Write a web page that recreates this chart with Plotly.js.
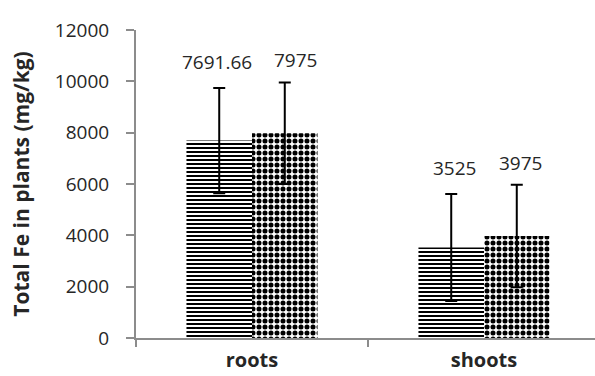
<!DOCTYPE html>
<html>
<head>
<meta charset="utf-8">
<script src="https://cdn.plot.ly/plotly-3.0.1.min.js"></script>
<style>
html,body{margin:0;padding:0;overflow:hidden;background:#fff;}
#chart{width:600px;height:376px;}
</style>
</head>
<body>
<div id="chart"></div>
<script>
// Data
var categories = ['roots', 'shoots'];
var series1 = [7691.66, 3525];
var series2 = [7975, 3975];
var err1 = [2050, 2085];
var err2 = [1975, 2000];
var labels1 = ['7691.66', '3525'];
var labels2 = ['7975', '3975'];
var yTicks = [0, 2000, 4000, 6000, 8000, 10000, 12000];

// Label placement styling (pixels)
var labelXShift1 = [-35, -30];
var labelXShift2 = [43, 36];
var labelYShift1 = [26, 26];
var labelYShift2 = [23, 22];

var axisGray = '#8c8c8c';
var textColor = '#262626';
var font = 'Open Sans, Noto Sans, sans-serif';

var trace1 = {
  type: 'bar', x: categories, y: series1, name: 'A',
  marker: {
    color: '#ffffff',
    line: {width: 0},
    pattern: {shape: '-', fgcolor: '#000000', bgcolor: '#ffffff', size: 4, solidity: 0.5, fillmode: 'replace'}
  },
  error_y: {type: 'data', array: err1, visible: true, color: '#000000', thickness: 2, width: 6}
};
var trace2 = {
  type: 'bar', x: categories, y: series2, name: 'B',
  marker: {
    color: '#ffffff',
    line: {width: 0},
    pattern: {shape: '.', fgcolor: '#000000', bgcolor: '#ffffff', size: 6, solidity: 0.55, fillmode: 'replace'}
  },
  error_y: {type: 'data', array: err2, visible: true, color: '#000000', thickness: 2, width: 6}
};

var annotations = [];
for (var i = 0; i < categories.length; i++) {
  annotations.push({x: categories[i], y: series1[i] + err1[i], xref: 'x', yref: 'y', text: labels1[i],
    showarrow: false, xshift: labelXShift1[i], yshift: labelYShift1[i], yanchor: 'middle',
    font: {family: font, size: 19, color: textColor}});
  annotations.push({x: categories[i], y: series2[i] + err2[i], xref: 'x', yref: 'y', text: labels2[i],
    showarrow: false, xshift: labelXShift2[i], yshift: labelYShift2[i], yanchor: 'middle',
    font: {family: font, size: 19, color: textColor}});
}

var layout = {
  width: 600, height: 376,
  margin: {l: 136, r: 0, t: 30, b: 38},
  paper_bgcolor: '#ffffff', plot_bgcolor: '#ffffff',
  barmode: 'group', bargap: 0.435, bargroupgap: 0,
  showlegend: false,
  font: {family: font, color: textColor},
  xaxis: {
    type: 'category', tickson: 'boundaries', ticks: 'outside', ticklen: 7, tickwidth: 2, tickcolor: axisGray,
    showline: true, linecolor: axisGray, linewidth: 2, showgrid: false, zeroline: false,
    tickfont: {family: font, size: 20, color: textColor, weight: 'bold'},
    ticklabelstandoff: 3
  },
  yaxis: {
    range: [0, 12000], tickvals: yTicks, ticktext: yTicks.map(String),
    ticks: 'outside', ticklen: 8, tickwidth: 2, tickcolor: axisGray,
    showline: true, linecolor: axisGray, linewidth: 2, showgrid: false, zeroline: false,
    tickfont: {family: font, size: 19, color: textColor},
    ticklabelstandoff: 13,
    title: {text: 'Total Fe in plants (mg/kg)', font: {family: font, size: 21, color: textColor, weight: 'bold'}, standoff: 20}
  },
  annotations: annotations
};

Plotly.newPlot('chart', [trace1, trace2], layout, {displayModeBar: false, staticPlot: true});
</script>
</body>
</html>
